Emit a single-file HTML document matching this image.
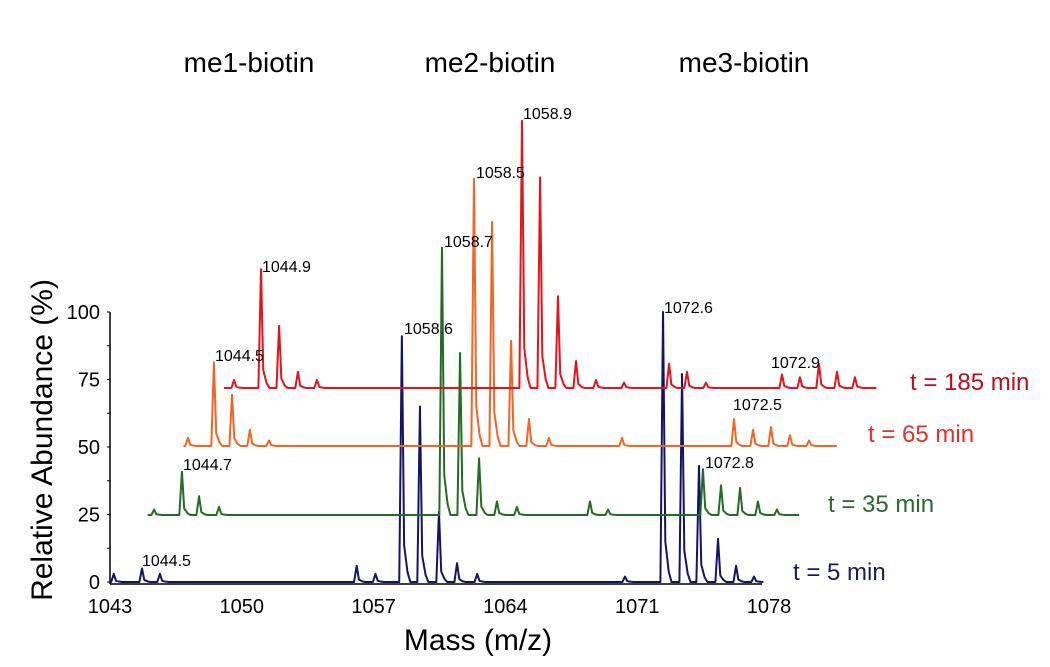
<!DOCTYPE html>
<html><head><meta charset="utf-8"><style>
body{margin:0;background:#fff;}
svg{display:block;font-family:"Liberation Sans",Arial,sans-serif;}
</style></head><body>
<svg id="chart" width="1050" height="667" viewBox="0 0 1050 667">
<g id="annot">
<text x="249" y="72" font-size="28" text-anchor="middle">me1-biotin</text>
<text x="490" y="72" font-size="28" text-anchor="middle">me2-biotin</text>
<text x="744" y="72" font-size="28" text-anchor="middle">me3-biotin</text>
<text transform="translate(52,440) rotate(-90)" font-size="30" text-anchor="middle">Relative Abundance (%)</text>
<text x="478" y="650" font-size="30" text-anchor="middle">Mass (m/z)</text>
<text x="910" y="390" font-size="24" fill="#b8101a">t = 185 min</text>
<text x="868" y="442" font-size="24" fill="#e8302a">t = 65 min</text>
<text x="828" y="512" font-size="24" fill="#2a6a2a">t = 35 min</text>
<text x="793" y="580" font-size="24" fill="#1a1a60">t = 5 min</text>
</g>
<g id="axes"></g>
<g id="traces"></g>
<g id="peaklabels"></g>
</svg>
<script>
const xTicks=[1043,1050,1057,1064,1071,1078];
const yTicks=[0,25,50,75,100];
const blueRange=[1043.0,1077.7];
const bluePeaks=[[1043.2,3],[1044.7,5],[1045.65,3],[1056.1,6],[1057.1,3],[1058.5,91],[1059.46,65],[1060.47,26],[1061.43,7],[1062.5,3],[1070.35,2],[1072.37,100],[1073.38,77],[1074.28,43],[1075.29,16],[1076.25,6],[1077.2,2]];
const greenRange=[1045.0,1079.6];
const greenPeaks=[[1045.34,2],[1046.82,16],[1047.73,7],[1048.79,3],[1060.63,99],[1061.59,60],[1062.6,21],[1063.55,5],[1064.61,3],[1068.49,5],[1069.45,2],[1074.49,17],[1075.45,11],[1076.46,10],[1077.41,5],[1078.42,2]];
const orangeRange=[1046.9,1081.6];
const orangePeaks=[[1047.14,3],[1048.52,31],[1049.48,19],[1050.43,6],[1051.44,2],[1062.33,99],[1063.29,83],[1064.3,39],[1065.25,10],[1066.31,3],[1070.19,3],[1076.14,10],[1077.15,6],[1078.1,7],[1079.11,4],[1080.12,2]];
const redRange=[1049.05,1083.7];
const redPeaks=[[1049.59,3],[1051.02,44],[1051.98,23],[1052.98,6],[1053.99,3],[1064.88,99],[1065.84,78],[1066.79,34],[1067.75,10],[1068.81,3],[1070.3,2],[1072.69,9],[1073.64,6],[1074.65,2],[1078.69,5],[1079.64,4],[1080.65,9],[1081.61,6],[1082.56,4]];
const peakLabels=["1044.5","1044.7","1044.5","1044.9","1058.6","1058.7","1058.5","1058.9","1072.6","1072.8","1072.5","1072.9"];

const X0=110,PXU=18.83,Y0=582,PYU=2.7;
const xs=m=>X0+(m-1043)*PXU;
const ys=(v,b)=>b-v*PYU;
const NS="http://www.w3.org/2000/svg";
function mk(tag,attrs,parent){const e=document.createElementNS(NS,tag);for(const k in attrs)e.setAttribute(k,attrs[k]);parent.appendChild(e);return e;}
const axes=document.getElementById('axes');
let a=mk('line',{x1:X0,y1:ys(100,Y0),x2:X0,y2:Y0+2,stroke:'#000','stroke-width':1.5},axes);


a=mk('line',{x1:X0,y1:Y0+2,x2:xs(1078)-7,y2:Y0+2,stroke:'#000','stroke-width':1.5},axes);


for(let v=0;v<=100;v+=12.5){const t=mk('line',{x1:X0-3,x2:X0,y1:ys(v,Y0),y2:ys(v,Y0),stroke:'#000','stroke-width':1},axes);

}
yTicks.forEach(v=>{const t=mk('text',{x:X0-10,y:ys(v,Y0)+7,'font-size':20,'text-anchor':'end'},axes);t.textContent=v;

});
xTicks.forEach(v=>{const t=mk('text',{x:xs(v),y:613,'font-size':20,'text-anchor':'middle'},axes);t.textContent=v;

});

const traces=[
 {name:'trace-t5',range:blueRange,peaks:bluePeaks,base:582,color:'#141466'},
 {name:'trace-t35',range:greenRange,peaks:greenPeaks,base:515,color:'#246b24'},
 {name:'trace-t65',range:orangeRange,peaks:orangePeaks,base:446,color:'#f26522'},
 {name:'trace-t185',range:redRange,peaks:redPeaks,base:388,color:'#e3141c'}];
const tg=document.getElementById('traces');
traces.forEach(t=>{
 let d='M'+xs(t.range[0])+','+t.base;
 t.peaks.forEach(p=>{const h=p[1];
  d+=' L'+xs(p[0]-0.14)+','+t.base+' L'+xs(p[0])+','+ys(h,t.base)+' L'+xs(p[0]+0.12)+','+ys(h*0.15,t.base)+' L'+xs(p[0]+0.3)+','+ys(h*0.04,t.base)+' L'+xs(p[0]+0.45)+','+t.base;});
 d+=' L'+xs(t.range[1])+','+t.base;
 const p=mk('path',{d:d,fill:'none',stroke:t.color,'stroke-width':2,'stroke-linejoin':'round'},tg);
 
 
});
const pl=document.getElementById('peaklabels');
const fixed=[[142,566],[183,470],[215,361],[262,272],[404,334],[444,247],[476,178],[523,119],[664,313],[705,468],[733,410],[771,368]];
peakLabels.forEach((s,i)=>{const t=mk('text',{x:fixed[i][0],y:fixed[i][1],'font-size':16},pl);t.textContent=s;

});
</script>
</body></html>
